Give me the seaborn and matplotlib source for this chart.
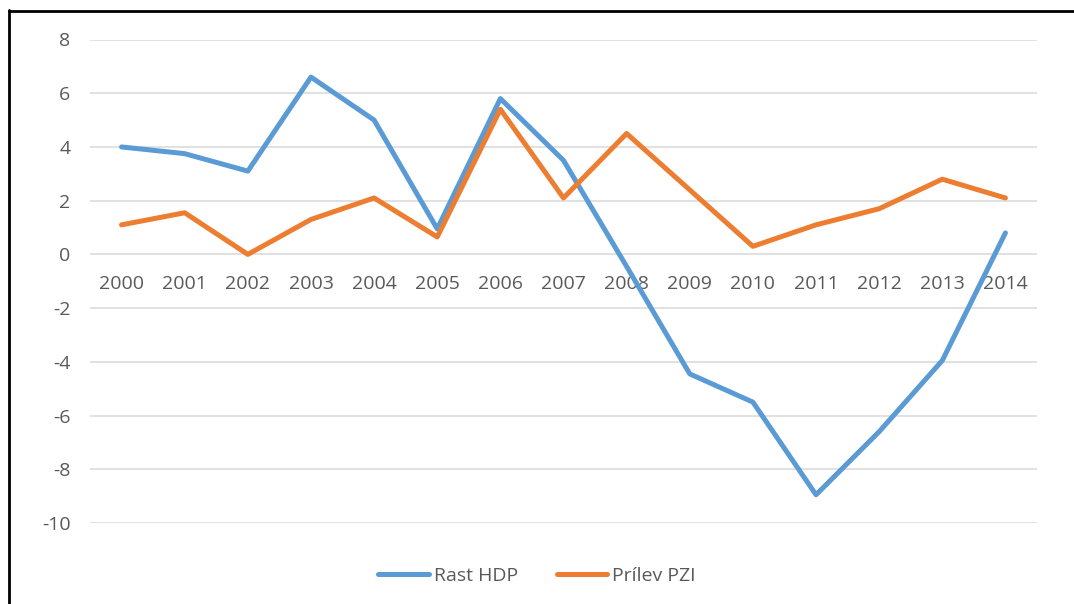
import pandas as pd
import matplotlib.pyplot as plt
import seaborn as sns
from matplotlib.lines import Line2D

# Data
years = [2000, 2001, 2002, 2003, 2004, 2005, 2006, 2007,
         2008, 2009, 2010, 2011, 2012, 2013, 2014]
rast_hdp = [4.0, 3.75, 3.1, 6.6, 5.0, 0.95, 5.8, 3.5,
            -0.45, -4.45, -5.5, -8.95, -6.6, -3.95, 0.8]
prilev_pzi = [1.1, 1.55, 0.0, 1.3, 2.1, 0.65, 5.4, 2.1,
              4.5, 2.4, 0.3, 1.1, 1.7, 2.8, 2.1]
series_names = ['Rast HDP', 'Prílev PZI']
colors = ['#5B9BD5', '#ED7D31']
y_ticks = [-10, -8, -6, -4, -2, 0, 2, 4, 6, 8]

df = pd.DataFrame({
    'rok': years * 2,
    'hodnota': rast_hdp + prilev_pzi,
    'seria': [series_names[0]] * len(years) + [series_names[1]] * len(years),
})

sns.set_style('white')
plt.rcParams['font.family'] = ['Open Sans', 'DejaVu Sans']
plt.rcParams['axes.unicode_minus'] = False
text_color = '#595959'
fs = 14

fig = plt.figure(figsize=(10.74, 6.04), dpi=100)
ax = fig.add_axes([90 / 1074, 1 - 523 / 604, 947 / 1074, 483.5 / 604])

sns.lineplot(data=df, x='rok', y='hodnota', hue='seria', hue_order=series_names,
             palette=colors, linewidth=3.6, sort=False, ax=ax,
             solid_joinstyle='round', solid_capstyle='round')

ax.set_xlim(years[0] - 0.5, years[-1] + 0.5)
ax.set_ylim(-10, 8)
ax.set_yticks(y_ticks)
ax.set_yticklabels([str(v) for v in y_ticks])
ax.set_xticks(years)
ax.set_xticklabels([str(y) for y in years])
ax.set_xlabel('')
ax.set_ylabel('')

ax.grid(axis='y', color='#D9D9D9', linewidth=1.1)
ax.grid(axis='x', visible=False)
ax.set_axisbelow(True)
for s in ['top', 'right', 'left']:
    ax.spines[s].set_visible(False)
ax.spines['bottom'].set_position(('data', 0))
ax.spines['bottom'].set_visible(False)

ax.tick_params(axis='y', length=0, pad=14, labelsize=fs, labelcolor=text_color)
ax.tick_params(axis='x', length=0, pad=15, labelsize=fs, labelcolor=text_color)

# legend at the bottom, centred on the figure
if ax.get_legend() is not None:
    ax.get_legend().remove()
handles = [Line2D([0], [0], color=c, linewidth=3.6, solid_capstyle='round') for c in colors]
fig.legend(handles, series_names, loc='center', bbox_to_anchor=(0.5, 1 - 576 / 604),
           ncol=2, frameon=False, fontsize=fs, labelcolor=text_color,
           handlelength=2.6, handletextpad=0.25, columnspacing=2.0)

# frame of the cropped screenshot
fig.add_artist(Line2D([8.5 / 1074, 8.5 / 1074], [0, 1 - 10 / 604],
                      transform=fig.transFigure, color='black', linewidth=2))
fig.add_artist(Line2D([8.5 / 1074, 1], [1 - 10.5 / 604, 1 - 10.5 / 604],
                      transform=fig.transFigure, color='black', linewidth=2))

fig.savefig('out.png', dpi=100, facecolor='white')
